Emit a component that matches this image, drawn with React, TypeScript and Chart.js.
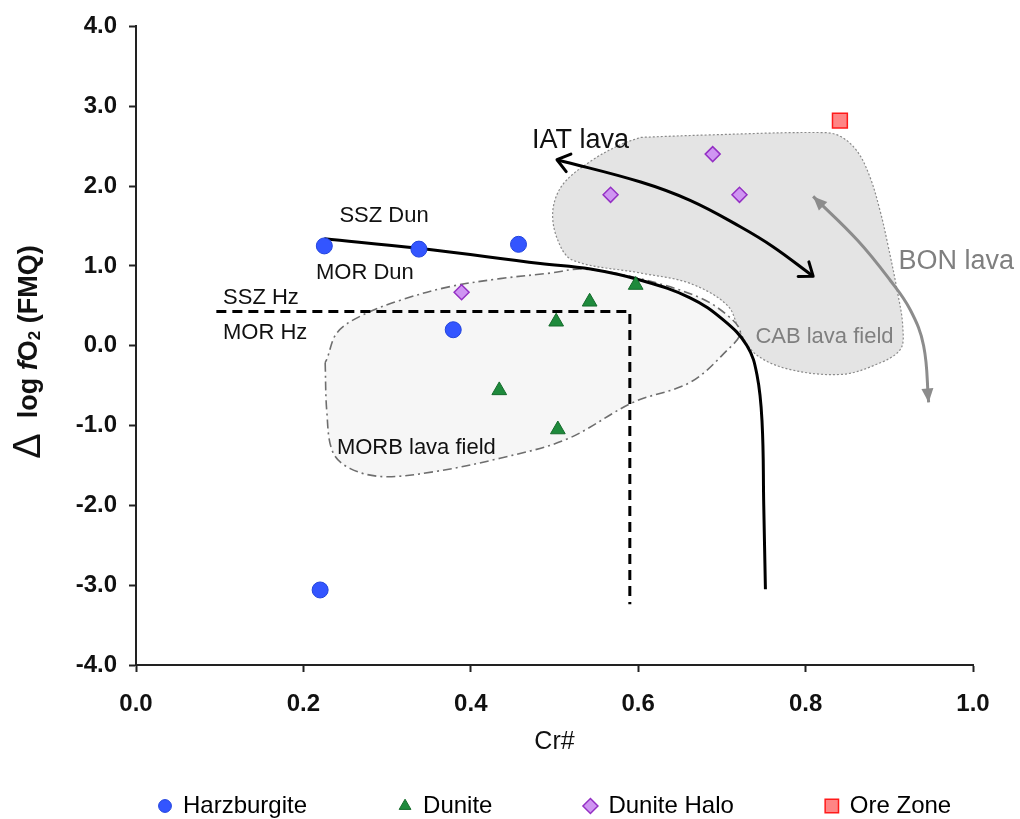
import React, { useEffect, useRef } from "react";
import { Chart, registerables } from "chart.js";

Chart.register(...registerables);

const FONT = "'Liberation Sans', Arial, Helvetica, sans-serif";

// ---- axis ticks ----
const xTickValues = [0, 0.2, 0.4, 0.6, 0.8, 1.0];
const yTickValues = [-4, -3, -2, -1, 0, 1, 2, 3, 4];

// ---- sample series ----
const seriesNames = ["Harzburgite", "Dunite", "Dunite Halo", "Ore Zone"];
const harzburgiteCr = [0.225, 0.338, 0.457, 0.379, 0.22];
const harzburgiteFO2 = [1.25, 1.21, 1.27, 0.2, -3.06];
const duniteCr = [0.597, 0.542, 0.502, 0.434, 0.504];
const duniteFO2 = [0.76, 0.55, 0.3, -0.56, -1.05];
const haloCr = [0.389, 0.567, 0.689, 0.721];
const haloFO2 = [0.67, 1.89, 2.4, 1.89];
const oreCr = [0.841];
const oreFO2 = [2.82];

// ---- SSZ / MOR boundary (solid) ----
const boundaryCr = [0.225, 0.338, 0.483, 0.543, 0.603, 0.662, 0.702, 0.73, 0.742, 0.748, 0.75, 0.752];
const boundaryFO2 = [1.34, 1.22, 1.03, 0.96, 0.82, 0.6, 0.32, 0.0, -0.37, -0.96, -2.0, -3.05];

// ---- Hz boundary (dashed) ----
const hzCr = [0.096, 0.59, 0.59];
const hzFO2 = [0.43, 0.43, -3.24];

// ---- MORB lava field ----
const morbCr = [0.226, 0.228, 0.235, 0.256, 0.295, 0.355, 0.435, 0.515, 0.594, 0.662, 0.707, 0.722, 0.71, 0.674, 0.602, 0.534, 0.495, 0.435, 0.375, 0.316, 0.268, 0.24, 0.228, 0.226];
const morbFO2 = [-0.21, -0.83, -1.33, -1.54, -1.64, -1.58, -1.41, -1.17, -0.71, -0.46, -0.05, 0.16, 0.35, 0.6, 0.84, 0.96, 0.91, 0.84, 0.74, 0.57, 0.37, 0.16, -0.17, -0.21];

// ---- CAB lava field ----
const cabCr = [0.603, 0.683, 0.821, 0.842, 0.862, 0.877, 0.889, 0.898, 0.91, 0.916, 0.913, 0.881, 0.842, 0.782, 0.742, 0.722, 0.707, 0.662, 0.603, 0.522, 0.504, 0.498, 0.51, 0.543, 0.579, 0.603];
const cabFO2 = [2.61, 2.64, 2.67, 2.62, 2.43, 2.11, 1.69, 1.28, 0.66, 0.25, -0.05, -0.25, -0.36, -0.3, -0.12, 0.16, 0.5, 0.78, 0.91, 1.07, 1.32, 1.69, 2.02, 2.31, 2.52, 2.61];

// ---- trend arrows ----
const iatCr = [0.503, 0.603, 0.662, 0.722, 0.761, 0.809];
const iatFO2 = [2.33, 2.05, 1.82, 1.49, 1.24, 0.87];
const bonCr = [0.809, 0.862, 0.901, 0.925, 0.941, 0.947];
const bonFO2 = [1.87, 1.32, 0.82, 0.45, 0.0, -0.71];

// ---- annotation labels ----
const labelTexts = ["IAT lava", "SSZ Dun", "MOR Dun", "SSZ Hz", "MOR Hz", "MORB lava field", "CAB lava field", "BON lava"];
const labelCr = [0.473, 0.243, 0.215, 0.104, 0.104, 0.24, 0.74, 0.911];
const labelFO2 = [2.57, 1.62, 0.91, 0.6, 0.16, -1.28, 0.11, 1.05];
const labelSizes = [27, 22, 22, 22, 22, 22, 22, 27];
const labelColors = ["#111", "#111", "#111", "#111", "#111", "#111", "#7f7f7f", "#7f7f7f"];

const pts = (xs: number[], ys: number[]) => xs.map((x, i) => ({ x, y: ys[i] }));

const seriesStyles = [
  { pointStyle: "circle", radius: 8, bg: "#3355ff", border: "#2244dd", bw: 1 },
  { pointStyle: "triangle", radius: 8.5, bg: "#1e8a3c", border: "#146b2b", bw: 1 },
  { pointStyle: "rectRot", radius: 7.5, bg: "#cf95f2", border: "#9430c4", bw: 1.5 },
  { pointStyle: "rect", radius: 10.5, bg: "#ff8585", border: "#ff1a1a", bw: 1.5 },
];

function drawMarker(ctx: CanvasRenderingContext2D, style: string, x: number, y: number, r: number, bg: string, border: string, bw: number) {
  ctx.save();
  ctx.beginPath();
  if (style === "circle") {
    ctx.arc(x, y, r, 0, Math.PI * 2);
  } else if (style === "triangle") {
    for (let k = 0; k < 3; k++) {
      const a = (k * 2 * Math.PI) / 3;
      const px = x + Math.sin(a) * r;
      const py = y - Math.cos(a) * r;
      if (k === 0) ctx.moveTo(px, py);
      else ctx.lineTo(px, py);
    }
    ctx.closePath();
  } else if (style === "rectRot") {
    ctx.moveTo(x, y - r);
    ctx.lineTo(x + r, y);
    ctx.lineTo(x, y + r);
    ctx.lineTo(x - r, y);
    ctx.closePath();
  } else {
    const s = r * Math.SQRT1_2;
    ctx.rect(x - s, y - s, 2 * s, 2 * s);
  }
  ctx.fillStyle = bg;
  ctx.fill();
  ctx.lineWidth = bw;
  ctx.strokeStyle = border;
  ctx.stroke();
  ctx.restore();
}

const overlayPlugin = {
  id: "overlay",
  afterDatasetsDraw(chart: any) {
    const { ctx } = chart;
    const xs = chart.scales.x;
    const ys = chart.scales.y;
    const P = (cr: number, f: number) => ({ x: xs.getPixelForValue(cr), y: ys.getPixelForValue(f) });

    const chevron = (tip: any, from: any, len: number, ang: number, color: string, w: number) => {
      const a = Math.atan2(tip.y - from.y, tip.x - from.x);
      ctx.save();
      ctx.strokeStyle = color;
      ctx.lineWidth = w;
      ctx.lineCap = "round";
      ctx.lineJoin = "round";
      ctx.beginPath();
      ctx.moveTo(tip.x - len * Math.cos(a - ang), tip.y - len * Math.sin(a - ang));
      ctx.lineTo(tip.x, tip.y);
      ctx.lineTo(tip.x - len * Math.cos(a + ang), tip.y - len * Math.sin(a + ang));
      ctx.stroke();
      ctx.restore();
    };
    const filledHead = (tip: any, from: any, len: number, half: number, color: string) => {
      const a = Math.atan2(tip.y - from.y, tip.x - from.x);
      const bx = tip.x - len * Math.cos(a);
      const by = tip.y - len * Math.sin(a);
      ctx.save();
      ctx.fillStyle = color;
      ctx.beginPath();
      ctx.moveTo(tip.x, tip.y);
      ctx.lineTo(bx + half * Math.sin(a), by - half * Math.cos(a));
      ctx.lineTo(bx - half * Math.sin(a), by + half * Math.cos(a));
      ctx.closePath();
      ctx.fill();
      ctx.restore();
    };
    const n1 = iatCr.length - 1;
    chevron(P(iatCr[0], iatFO2[0]), P(iatCr[1], iatFO2[1]), 15, 0.65, "#000", 3);
    chevron(P(iatCr[n1], iatFO2[n1]), P(iatCr[n1 - 1], iatFO2[n1 - 1]), 15, 0.65, "#000", 3);
    const n2 = bonCr.length - 1;
    filledHead(P(bonCr[0], bonFO2[0]), P(bonCr[1], bonFO2[1]), 14, 6, "#8c8c8c");
    filledHead(P(bonCr[n2], bonFO2[n2]), P(bonCr[n2 - 1], bonFO2[n2 - 1]), 14, 6, "#8c8c8c");

    ctx.save();
    ctx.textAlign = "left";
    ctx.textBaseline = "middle";
    labelTexts.forEach((t, i) => {
      const p = P(labelCr[i], labelFO2[i]);
      ctx.font = `normal ${labelSizes[i]}px ${FONT}`;
      ctx.fillStyle = labelColors[i];
      ctx.fillText(t, p.x, p.y);
    });
    ctx.restore();
  },
  afterDraw(chart: any) {
    const { ctx } = chart;
    // y-axis title: Δ log fO2 (FMQ)
    ctx.save();
    ctx.translate(30, 352);
    ctx.rotate(-Math.PI / 2);
    const parts = [
      { t: "\u0394", f: `normal 38px ${FONT}`, dy: 0 },
      { t: "  log ", f: `bold 27px ${FONT}`, dy: 0 },
      { t: "f", f: `italic bold 27px ${FONT}`, dy: 0 },
      { t: "O", f: `bold 27px ${FONT}`, dy: 0 },
      { t: "2", f: `bold 17px ${FONT}`, dy: 5 },
      { t: " (FMQ)", f: `bold 27px ${FONT}`, dy: 0 },
    ];
    let total = 0;
    const widths = parts.map((p) => {
      ctx.font = p.f;
      const w = ctx.measureText(p.t).width;
      total += w;
      return w;
    });
    let cx = -total / 2;
    ctx.textBaseline = "middle";
    ctx.textAlign = "left";
    ctx.fillStyle = "#111";
    parts.forEach((p, i) => {
      ctx.font = p.f;
      ctx.fillText(p.t, cx, p.dy);
      cx += widths[i];
    });
    ctx.restore();

    // legend
    ctx.save();
    ctx.font = `normal 24px ${FONT}`;
    ctx.textBaseline = "middle";
    ctx.textAlign = "left";
    ctx.fillStyle = "#000";
    const legendY = 806;
    const legendScale = [0.8, 0.8, 1.0, 0.9];
    let lx = 165;
    seriesNames.forEach((name, i) => {
      const s = seriesStyles[i];
      drawMarker(ctx, s.pointStyle, lx, legendY, s.radius * legendScale[i], s.bg, s.border, s.bw);
      const tx = lx + 18;
      ctx.fillStyle = "#000";
      ctx.fillText(name, tx, legendY);
      lx = tx + ctx.measureText(name).width + 98;
    });
    ctx.restore();
  },
};

export default function App() {
  const ref = useRef<HTMLCanvasElement>(null);
  useEffect(() => {
    const seriesData = [
      pts(harzburgiteCr, harzburgiteFO2),
      pts(duniteCr, duniteFO2),
      pts(haloCr, haloFO2),
      pts(oreCr, oreFO2),
    ];
    const pointSets = seriesNames.map((name, i) => ({
      label: name,
      data: seriesData[i],
      pointStyle: seriesStyles[i].pointStyle,
      pointRadius: seriesStyles[i].radius,
      pointBackgroundColor: seriesStyles[i].bg,
      pointBorderColor: seriesStyles[i].border,
      pointBorderWidth: seriesStyles[i].bw,
      showLine: false,
      order: 0,
    }));
    const lineBase = { showLine: true, pointRadius: 0, pointHoverRadius: 0 };
    const chart = new Chart(ref.current as HTMLCanvasElement, {
      type: "scatter",
      data: {
        datasets: [
          {
            ...lineBase,
            label: "CAB lava field",
            data: pts(cabCr, cabFO2),
            fill: "shape",
            backgroundColor: "#e4e4e4",
            borderColor: "#8a8a8a",
            borderWidth: 1.2,
            borderDash: [2, 2],
            tension: 0.35,
            order: 6,
          },
          {
            ...lineBase,
            label: "MORB lava field",
            data: pts(morbCr, morbFO2),
            fill: "shape",
            backgroundColor: "#f6f6f6",
            borderColor: "#6e6e6e",
            borderWidth: 1.6,
            borderDash: [9, 4, 2, 4],
            tension: 0.35,
            order: 5,
          },
          {
            ...lineBase,
            label: "BON lava",
            data: pts(bonCr, bonFO2),
            fill: false,
            borderColor: "#8c8c8c",
            borderWidth: 3,
            tension: 0.4,
            order: 4,
          },
          {
            ...lineBase,
            label: "IAT lava",
            data: pts(iatCr, iatFO2),
            fill: false,
            borderColor: "#000",
            borderWidth: 3,
            tension: 0.4,
            order: 3,
          },
          {
            ...lineBase,
            label: "Hz boundary",
            data: pts(hzCr, hzFO2),
            fill: false,
            borderColor: "#000",
            borderWidth: 3,
            borderDash: [10, 6],
            tension: 0,
            order: 2,
          },
          {
            ...lineBase,
            label: "Dun boundary",
            data: pts(boundaryCr, boundaryFO2),
            fill: false,
            borderColor: "#000",
            borderWidth: 3,
            tension: 0.4,
            order: 1,
          },
          ...pointSets,
        ] as any,
      },
      options: {
        animation: false,
        responsive: false,
        devicePixelRatio: 1,
        layout: { padding: { top: 20, right: 47, left: 0, bottom: 0 } },
        plugins: {
          legend: { display: false },
          tooltip: { enabled: false },
        },
        scales: {
          x: {
            type: "linear",
            position: "bottom",
            min: 0,
            max: 1,
            afterBuildTicks: (s: any) => {
              s.ticks = xTickValues.map((v) => ({ value: v }));
            },
            afterFit: (s: any) => {
              s.height = 154;
            },
            ticks: {
              callback: (v: any) => Number(v).toFixed(1),
              font: { family: FONT, size: 24, weight: "bold" },
              color: "#111",
              padding: 18,
              maxRotation: 0,
              autoSkip: false,
            },
            grid: {
              display: true,
              drawOnChartArea: false,
              drawTicks: true,
              tickLength: 7,
              tickWidth: 2,
              tickColor: "#222",
            },
            border: { display: true, color: "#222", width: 2 },
            title: {
              display: true,
              text: "Cr#",
              font: { family: FONT, size: 25, weight: "normal" },
              color: "#111",
              padding: { top: 4, bottom: 62 },
            },
          },
          y: {
            type: "linear",
            min: -4,
            max: 4,
            afterBuildTicks: (s: any) => {
              s.ticks = yTickValues.map((v) => ({ value: v }));
            },
            afterFit: (s: any) => {
              s.width = 136;
            },
            ticks: {
              callback: (v: any) => Number(v).toFixed(1),
              font: { family: FONT, size: 24, weight: "bold" },
              color: "#111",
              padding: 12,
              autoSkip: false,
            },
            grid: {
              display: true,
              drawOnChartArea: false,
              drawTicks: true,
              tickLength: 7,
              tickWidth: 2,
              tickColor: "#222",
            },
            border: { display: true, color: "#222", width: 2 },
            title: { display: false },
          },
        },
      } as any,
      plugins: [overlayPlugin],
    });
    return () => chart.destroy();
  }, []);
  return (
    <div style={{ position: "absolute", left: 0, top: 0, width: 1020, height: 819, background: "#fff" }}>
      <canvas ref={ref} width={1020} height={819} style={{ display: "block", width: 1020, height: 819 }} />
    </div>
  );
}
